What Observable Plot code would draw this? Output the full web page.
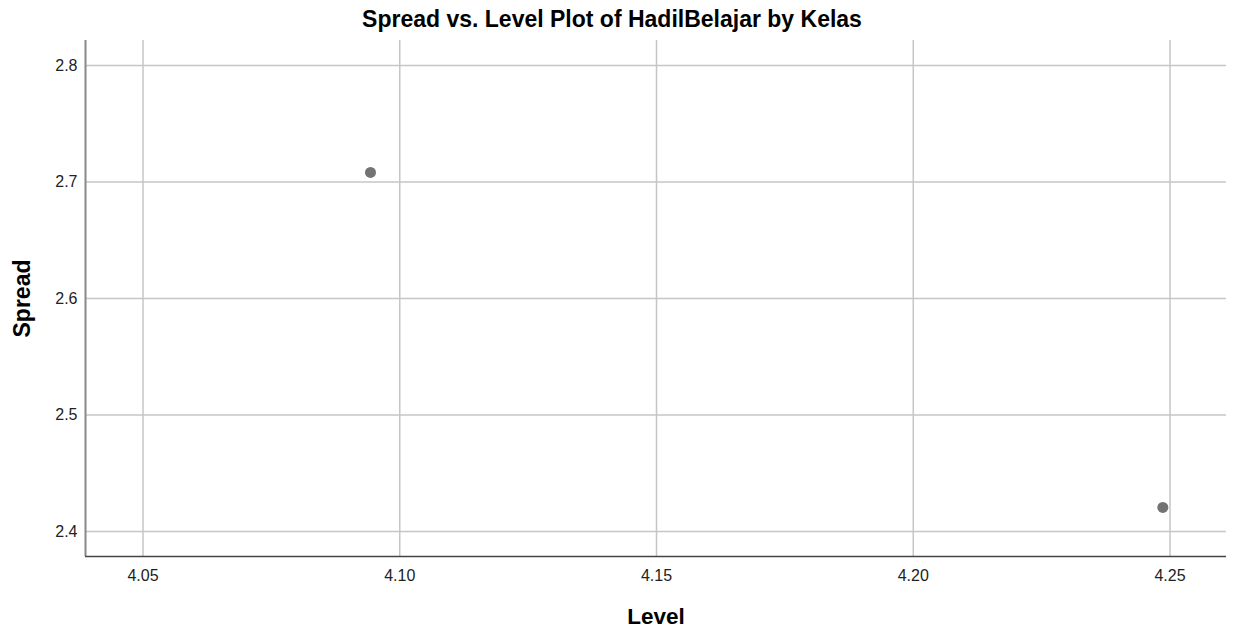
<!DOCTYPE html>
<html>
<head>
<meta charset="utf-8">
<script src="https://cdn.jsdelivr.net/npm/d3@7"></script>
<script src="https://cdn.jsdelivr.net/npm/@observablehq/plot@0.6"></script>
<style>
  body { margin: 0; background: #fff; font-family: "Liberation Sans", Arial, sans-serif; }
  #wrap { position: relative; width: 1236px; height: 632px; }
  #title { position: absolute; top: 8px; left: 612px; transform: translateX(-50%); font-size: 23px; font-weight: bold; color: #000; white-space: nowrap; line-height: 23px; }
  #chart { position: absolute; top: 30px; left: 0; }
</style>
</head>
<body>
<div id="wrap">
  <div id="chart"></div>
  <div id="title">Spread vs. Level Plot of HadilBelajar by Kelas</div>
</div>
<script>
const levels = [4.0943, 4.2486];
const spreads = [2.7082, 2.4206];
const xTicks = [4.05, 4.10, 4.15, 4.20, 4.25];
const yTicks = [2.4, 2.5, 2.6, 2.7, 2.8];
const xDomain = [4.0388, 4.2610];
const yDomain = [2.3785, 2.8215];

const data = levels.map((l, i) => ({level: l, spread: spreads[i]}));

const chart = Plot.plot({
  width: 1236,
  height: 602,
  marginLeft: 85,
  marginRight: 10,
  marginTop: 10,
  marginBottom: 76,
  style: {fontFamily: "Liberation Sans, Arial, sans-serif", fontSize: "16px", color: "#222", background: "#fff"},
  x: {domain: xDomain, ticks: xTicks, tickFormat: d3.format(".2f")},
  y: {domain: yDomain, ticks: yTicks, tickFormat: d3.format(".1f")},
  marks: [
    Plot.gridX(xTicks, {stroke: "#c6c6c6", strokeOpacity: 1, strokeWidth: 1.5}),
    Plot.gridY(yTicks, {stroke: "#c6c6c6", strokeOpacity: 1, strokeWidth: 1.5}),
    Plot.axisX(xTicks, {tickSize: 0, tickPadding: 13, label: null, tickFormat: d3.format(".2f"), fill: "#222", fontSize: 16}),
    Plot.axisY(yTicks, {tickSize: 0, tickPadding: 8, label: null, tickFormat: d3.format(".1f"), fill: "#222", fontSize: 16}),
    Plot.ruleX([xDomain[0]], {stroke: "#888", strokeWidth: 2}),
    Plot.ruleY([yDomain[0]], {stroke: "#444", strokeWidth: 1.5}),
    Plot.dot(data, {x: "level", y: "spread", r: 5.5, fill: "#737373", stroke: "none"}),
    Plot.text(["Level"], {frameAnchor: "bottom", dy: 60, fontSize: 22.5, fontWeight: "bold", fill: "#000", lineAnchor: "middle"}),
    Plot.text(["Spread"], {frameAnchor: "left", dx: -63, rotate: -90, fontSize: 23, fontWeight: "bold", fill: "#000", textAnchor: "middle", letterSpacing: "2px"})
  ]
});
document.getElementById("chart").appendChild(chart);
</script>
</body>
</html>
